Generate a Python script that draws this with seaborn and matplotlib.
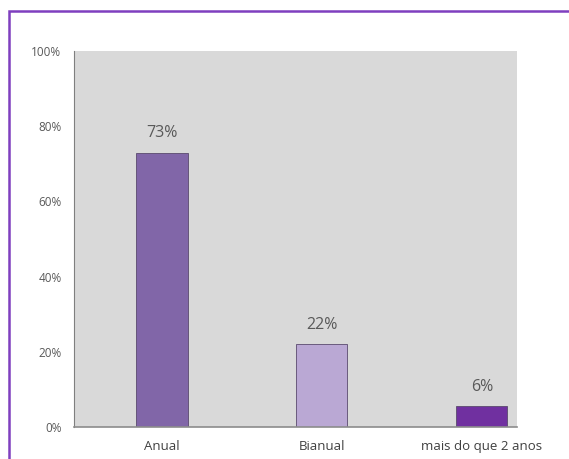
import matplotlib
matplotlib.use("Agg")
import matplotlib.pyplot as plt
import seaborn as sns
import pandas as pd
from matplotlib.patches import Rectangle

categories = ["Anual", "Bianual", "mais do que 2 anos"]
values = [73, 22, 5.6]
labels = ["73%", "22%", "6%"]
colors = ["#8166a8", "#baa8d4", "#7030a0"]
yticks = [0, 20, 40, 60, 80, 100]

sns.set_theme(style="white")
plt.rcParams['font.family'] = ['Open Sans', 'DejaVu Sans']

fig = plt.figure(figsize=(5.69, 4.59), dpi=100)
ax = fig.add_axes([0.130, 0.0697, 0.7786, 0.8192])

df = pd.DataFrame({"cat": categories, "val": values})
sns.barplot(data=df, x="cat", y="val", hue="cat", palette=colors, legend=False,
            width=0.32, saturation=1, ax=ax, edgecolor="#5a4a6e", linewidth=0.6)

ax.set_facecolor("#d9d9d9")
ax.set_xlim(-0.55, 2.22)
ax.set_ylim(0, 100)
ax.set_yticks(yticks)
ax.set_yticklabels([f"{t}%" for t in yticks], fontsize=8.5, color="#595959")
ax.tick_params(axis="x", labelsize=9.5, colors="#404040", length=0, pad=9)
ax.tick_params(axis="y", length=0, pad=9)
ax.set_xlabel("")
ax.set_ylabel("")
for s in ["top", "right"]:
    ax.spines[s].set_visible(False)
ax.spines["left"].set_color("#7f7f7f")
ax.spines["left"].set_linewidth(0.8)
ax.spines["bottom"].set_color("#8c8c8c")
ax.spines["bottom"].set_linewidth(1.2)

for i, (v, lab) in enumerate(zip(values, labels)):
    ax.annotate(lab, (i, v), xytext=(0, 8), textcoords="offset points",
                ha="center", va="bottom", fontsize=11.5, color="#595959")

border = Rectangle((9 / 569, -0.05), 1.2, 1 - 11 / 459 + 0.05, transform=fig.transFigure,
                   fill=False, edgecolor="#7f3fbf", linewidth=1.8, zorder=10)
fig.patches.append(border)

fig.savefig("out.png", dpi=100, facecolor="white")
